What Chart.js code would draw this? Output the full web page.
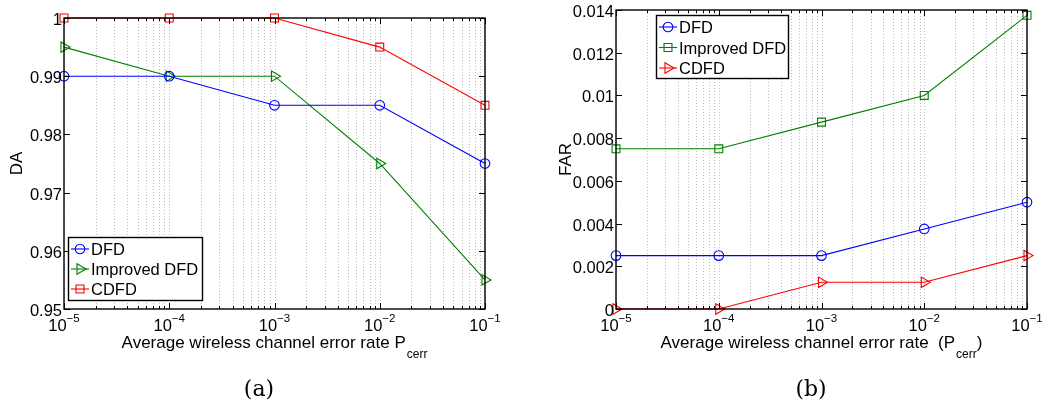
<!DOCTYPE html>
<html><head><meta charset="utf-8">
<script src="https://cdn.jsdelivr.net/npm/chart.js@4.4.1/dist/chart.umd.min.js"></script>
<style>
html,body{margin:0;padding:0;background:#fff;}
body{width:1055px;height:407px;overflow:hidden;position:relative;}
canvas{position:absolute;left:0;top:0;}
</style></head><body>
<canvas id="ca" width="1055" height="407"></canvas>
<canvas id="cb" width="1055" height="407"></canvas>
<script>
// ---- data ----
const errorRates = [1e-5, 1e-4, 1e-3, 1e-2, 1e-1];
const decadeExponents = [-5, -4, -3, -2, -1];
const seriesNames = ['DFD', 'Improved DFD', 'CDFD'];

const daDFD = [0.99, 0.99, 0.985, 0.985, 0.975];
const daImproved = [0.995, 0.99, 0.99, 0.975, 0.955];
const daCDFD = [1, 1, 1, 0.995, 0.985];
const daYTicks = [0.95, 0.96, 0.97, 0.98, 0.99, 1];
const daYTickLabels = ['0.95', '0.96', '0.97', '0.98', '0.99', '1'];

const farDFD = [0.0025, 0.0025, 0.0025, 0.00375, 0.005];
const farImproved = [0.0075, 0.0075, 0.00875, 0.01, 0.01375];
const farCDFD = [0, 0, 0.00125, 0.00125, 0.0025];
const farYTicks = [0, 0.002, 0.004, 0.006, 0.008, 0.01, 0.012, 0.014];
const farYTickLabels = ['0', '0.002', '0.004', '0.006', '0.008', '0.01', '0.012', '0.014'];

// ---- styling ----
const FONT = '"Liberation Sans", Arial, Helvetica, sans-serif';
const BLUE = '#0000ff', GREEN = '#008000', RED = '#ff0000';

function pts(vals) { return errorRates.map((x, i) => ({x: x, y: vals[i]})); }

function ds(label, vals, color, style) {
  return {
    label: label, data: pts(vals), borderColor: color, borderWidth: 1.1,
    pointStyle: style.shape, pointRotation: style.rot || 0, pointRadius: style.r,
    pointBorderColor: color, pointBackgroundColor: 'rgba(0,0,0,0)', pointBorderWidth: 1.1,
    pointHoverRadius: style.r, fill: false, tension: 0, clip: false
  };
}
const CIRCLE = {shape: 'circle', r: 4.8};
const TRI = {shape: 'triangle', rot: 90, r: 6};
const SQUARE = {shape: 'rect', r: 5.6};

function drawMarker(ctx, style, x, y, color) {
  ctx.save();
  ctx.strokeStyle = color; ctx.lineWidth = 1.1; ctx.setLineDash([]);
  ctx.beginPath();
  if (style.shape === 'circle') {
    ctx.arc(x, y, style.r, 0, Math.PI * 2);
  } else if (style.shape === 'rect') {
    const s = style.r * Math.SQRT1_2;
    ctx.rect(x - s, y - s, 2 * s, 2 * s);
  } else {
    let rad = (style.rot || 0) * Math.PI / 180;
    for (let k = 0; k < 3; k++) {
      const px = x + Math.sin(rad) * style.r, py = y - Math.cos(rad) * style.r;
      if (k === 0) ctx.moveTo(px, py); else ctx.lineTo(px, py);
      rad += 2 * Math.PI / 3;
    }
    ctx.closePath();
  }
  ctx.stroke();
  ctx.restore();
}

function makePlugin(spec) {
  return {
    id: 'matlabLook' + spec.key,
    beforeDatasetsDraw(chart) {
      const ctx = chart.ctx, a = chart.chartArea, xs = chart.scales.x;
      ctx.save();
      ctx.strokeStyle = '#bdbdbd'; ctx.lineWidth = 1; ctx.setLineDash([1, 2]);
      for (const e of decadeExponents) {
        const maxM = (e === -1) ? 1 : 9;
        for (let m = 1; m <= maxM; m++) {
          const px = Math.round(xs.getPixelForValue(m * Math.pow(10, e))) + 0.5;
          ctx.beginPath(); ctx.moveTo(px, a.top); ctx.lineTo(px, a.bottom); ctx.stroke();
        }
      }
      ctx.restore();
    },
    afterDraw(chart) {
      const ctx = chart.ctx, a = chart.chartArea, xs = chart.scales.x, ys = chart.scales.y;
      ctx.save();
      ctx.setLineDash([]);
      // frame
      ctx.strokeStyle = '#000'; ctx.lineWidth = 1.4;
      ctx.strokeRect(a.left, a.top, a.right - a.left, a.bottom - a.top);
      ctx.lineWidth = 1;
      // y ticks
      ctx.fillStyle = '#000';
      ctx.font = '16.5px ' + FONT;
      ctx.textAlign = 'right'; ctx.textBaseline = 'alphabetic';
      spec.yTicks.forEach((v, i) => {
        const py = Math.round(ys.getPixelForValue(v)) + 0.5;
        ctx.beginPath();
        ctx.moveTo(a.left, py); ctx.lineTo(a.left + 6, py);
        ctx.moveTo(a.right, py); ctx.lineTo(a.right - 6, py);
        ctx.stroke();
        ctx.fillText(spec.yLabels[i], a.left - 2, ys.getPixelForValue(v) + 7);
      });
      // x ticks
      for (const e of decadeExponents) {
        const maxM = (e === -1) ? 1 : 9;
        for (let m = 1; m <= maxM; m++) {
          const px = Math.round(xs.getPixelForValue(m * Math.pow(10, e))) + 0.5;
          const len = m === 1 ? 6 : 3;
          ctx.beginPath();
          ctx.moveTo(px, a.bottom); ctx.lineTo(px, a.bottom - len);
          ctx.moveTo(px, a.top); ctx.lineTo(px, a.top + len);
          ctx.stroke();
        }
      }
      // x tick labels 10^e
      ctx.textAlign = 'left';
      for (const e of decadeExponents) {
        const px = xs.getPixelForValue(Math.pow(10, e));
        ctx.font = '16.5px ' + FONT;
        const w1 = ctx.measureText('10').width;
        const sup = '\u2212' + Math.abs(e);
        ctx.font = '11.5px ' + FONT;
        const w2 = ctx.measureText(sup).width;
        const x0 = px - (w1 + w2) / 2;
        ctx.font = '16.5px ' + FONT;
        ctx.fillText('10', x0, 331);
        ctx.font = '11.5px ' + FONT;
        ctx.fillText(sup, x0 + w1, 322);
      }
      // x title with subscript
      const parts = spec.xTitle; // [before, sub, after]
      const TF = '17px ' + FONT;
      ctx.font = TF;
      const wb = ctx.measureText(parts[0]).width;
      const wa = ctx.measureText(parts[2]).width;
      ctx.font = '12px ' + FONT;
      const ws = ctx.measureText(parts[1]).width;
      const cx = (a.left + a.right) / 2;
      let tx = cx - (wb + ws + wa + 1) / 2;
      ctx.font = TF;
      ctx.fillText(parts[0], tx, 348);
      ctx.font = '12px ' + FONT;
      ctx.fillText(parts[1], tx + wb + 1, 358);
      ctx.font = TF;
      ctx.fillText(parts[2], tx + wb + 1 + ws, 348);
      // y title
      ctx.save();
      ctx.translate(spec.yTitleX, (a.top + a.bottom) / 2);
      ctx.rotate(-Math.PI / 2);
      ctx.textAlign = 'center';
      ctx.font = TF;
      ctx.fillText(spec.yTitle, 0, 0);
      ctx.restore();
      // legend
      const L = spec.legend;
      ctx.fillStyle = '#fff';
      ctx.fillRect(L.x, L.y, L.w, L.h);
      ctx.strokeStyle = '#000'; ctx.lineWidth = 1.4;
      ctx.strokeRect(L.x + 0.5, L.y + 0.5, L.w, L.h);
      chart.data.datasets.forEach((d, i) => {
        const ey = L.y + L.firstY + i * L.step;
        ctx.strokeStyle = d.borderColor; ctx.lineWidth = 1.1;
        ctx.beginPath(); ctx.moveTo(L.x + 3, ey); ctx.lineTo(L.x + 21, ey); ctx.stroke();
        drawMarker(ctx, spec.styles[i], L.x + 12, ey, d.borderColor);
        ctx.fillStyle = '#000';
        ctx.font = '16.5px ' + FONT;
        ctx.textAlign = 'left';
        ctx.fillText(d.label, L.x + 23, ey + 6);
      });
      // caption
      ctx.fillStyle = '#000';
      ctx.font = '22px "DejaVu Serif", "Liberation Serif", serif';
      ctx.textAlign = 'center';
      ctx.fillText(spec.caption, spec.captionX, 396);
      ctx.restore();
    }
  };
}

function makeChart(id, spec, datasets, area, yMin, yMax) {
  return new Chart(document.getElementById(id), {
    type: 'line',
    data: {datasets: datasets},
    options: {
      responsive: false, animation: false, devicePixelRatio: 1,
      layout: {padding: {left: area.left, right: 1055 - area.right, top: area.top, bottom: 407 - area.bottom}},
      plugins: {legend: {display: false}, tooltip: {enabled: false}},
      events: [],
      scales: {
        x: {type: 'logarithmic', min: 1e-5, max: 1e-1, display: false},
        y: {type: 'linear', min: yMin, max: yMax, display: false}
      }
    },
    plugins: [makePlugin(spec)]
  });
}

makeChart('ca', {
  key: 'A', yTicks: daYTicks, yLabels: daYTickLabels, yTitle: 'DA', yTitleX: 22,
  xTitle: ['Average wireless channel error rate P', 'cerr', ''],
  legend: {x: 68, y: 237, w: 134, h: 63, firstY: 12, step: 20},
  styles: [CIRCLE, TRI, SQUARE], caption: '(a)', captionX: 259
}, [
  ds(seriesNames[0], daDFD, BLUE, CIRCLE),
  ds(seriesNames[1], daImproved, GREEN, TRI),
  ds(seriesNames[2], daCDFD, RED, SQUARE)
], {left: 64, right: 485, top: 18, bottom: 309}, 0.95, 1);

makeChart('cb', {
  key: 'B', yTicks: farYTicks, yLabels: farYTickLabels, yTitle: 'FAR', yTitleX: 571,
  xTitle: ['Average wireless channel error rate  (P', 'cerr', ')'],
  legend: {x: 656, y: 15, w: 132, h: 63, firstY: 12, step: 20.5},
  styles: [CIRCLE, SQUARE, TRI], caption: '(b)', captionX: 811
}, [
  ds(seriesNames[0], farDFD, BLUE, CIRCLE),
  ds(seriesNames[1], farImproved, GREEN, SQUARE),
  ds(seriesNames[2], farCDFD, RED, TRI)
], {left: 616, right: 1027, top: 10, bottom: 309}, 0, 0.014);
</script>
</body></html>
